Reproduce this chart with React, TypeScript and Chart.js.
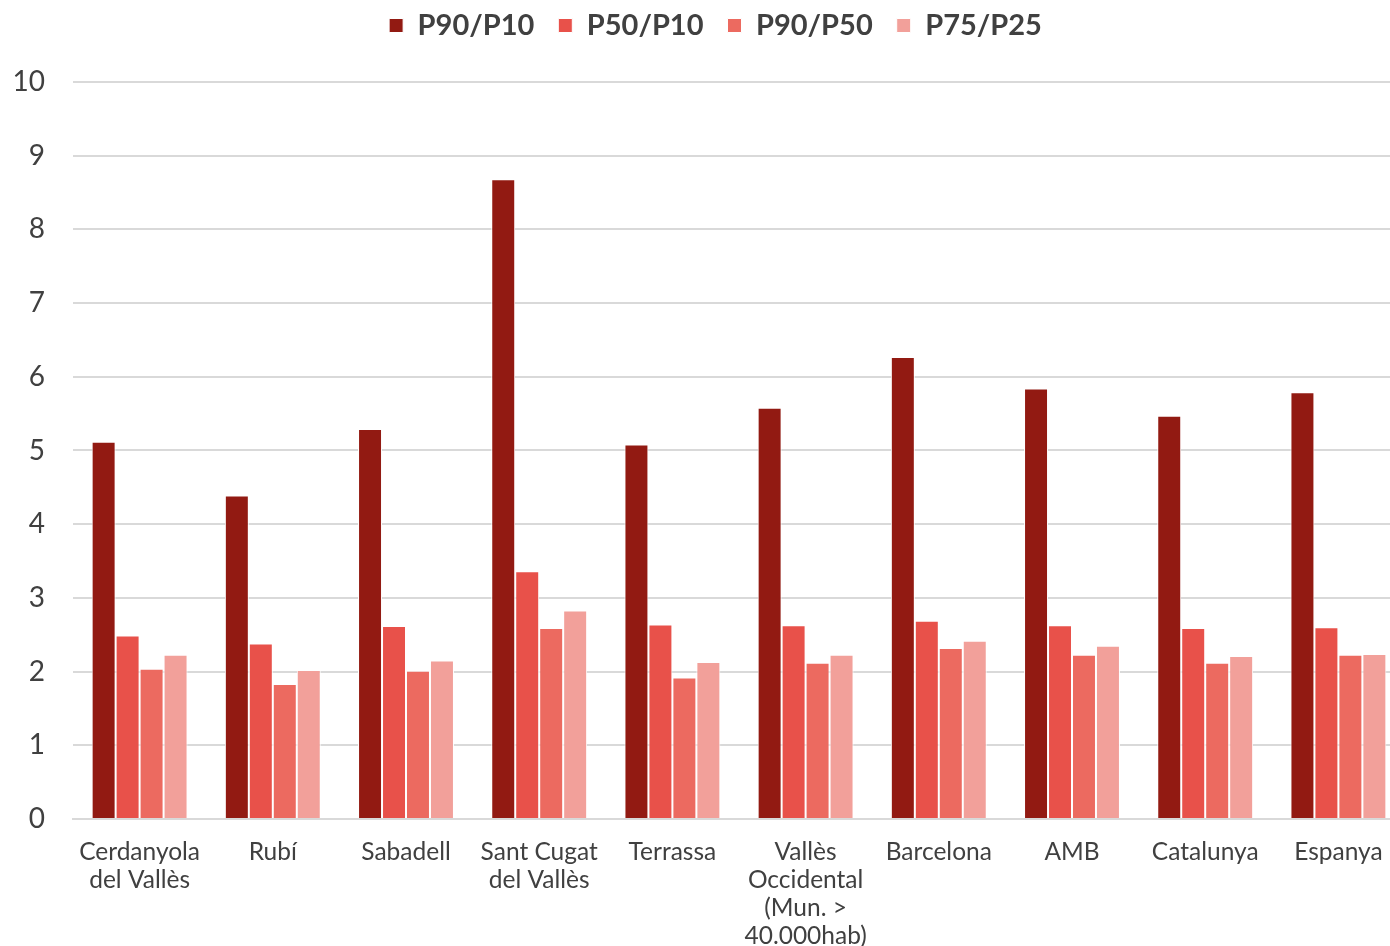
import React, { useEffect, useRef } from "react";
import { Chart, registerables } from "chart.js";

Chart.register(...registerables);

const categories: (string | string[])[] = [
  ["Cerdanyola", "del Vallès"],
  "Rubí",
  "Sabadell",
  ["Sant Cugat", "del Vallès"],
  "Terrassa",
  ["Vallès", "Occidental", "(Mun. >", "40.000hab)"],
  "Barcelona",
  "AMB",
  "Catalunya",
  "Espanya",
];

const seriesNames = ["P90/P10", "P50/P10", "P90/P50", "P75/P25"];
const p90p10 = [5.12, 4.39, 5.29, 8.68, 5.08, 5.58, 6.27, 5.84, 5.47, 5.79];
const p50p10 = [2.49, 2.38, 2.62, 3.36, 2.64, 2.63, 2.69, 2.63, 2.59, 2.6];
const p90p50 = [2.04, 1.83, 2.01, 2.59, 1.92, 2.12, 2.32, 2.23, 2.12, 2.23];
const p75p25 = [2.23, 2.02, 2.15, 2.83, 2.13, 2.23, 2.42, 2.35, 2.21, 2.24];
const colors = ["#921A12", "#E8514A", "#EC6A60", "#F2A09A"];
const yTicks = [0, 1, 2, 3, 4, 5, 6, 7, 8, 9, 10];

const LEGEND_HEIGHT = 82;
const LEGEND_DX = 6;
const LEGEND_DY = -13;

const legendTweak = {
  id: "legendTweak",
  beforeInit(chart: any) {
    const lg = chart.legend;
    if (!lg) return;
    const origFit = lg.fit;
    lg.fit = function () {
      origFit.call(this);
      this.height = LEGEND_HEIGHT;
    };
  },
  afterLayout(chart: any) {
    const lg = chart.legend;
    if (!lg) return;
    lg.left += LEGEND_DX;
    lg.right += LEGEND_DX;
    lg.top += LEGEND_DY;
    lg.bottom += LEGEND_DY;
  },
};

export default function App() {
  const ref = useRef<HTMLCanvasElement | null>(null);
  useEffect(() => {
    if (!ref.current) return;
    const values = [p90p10, p50p10, p90p50, p75p25];
    const chart = new Chart(ref.current, {
      type: "bar",
      data: {
        labels: categories,
        datasets: seriesNames.map((name, i) => ({
          label: name,
          data: values[i],
          backgroundColor: colors[i],
          borderColor: "#ffffff",
          borderWidth: 1,
          barPercentage: 1,
          categoryPercentage: 0.72,
        })),
      },
      options: {
        animation: false,
        responsive: true,
        maintainAspectRatio: false,
        layout: { padding: { left: 14, right: 0, top: 0, bottom: 0 } },
        plugins: {
          tooltip: { enabled: false },
          legend: {
            position: "top",
            labels: {
              boxWidth: 14,
              boxHeight: 14,
              padding: 24,
              color: "#404040",
              font: { family: "Lato", size: 29, weight: "bold" },
            },
          },
        },
        scales: {
          x: {
            grid: { display: false, drawTicks: true, tickLength: 8 },
            border: { display: true, color: "#d9d9d9", width: 2 },
            ticks: {
              color: "#404040",
              font: { family: "Lato", size: 24.5, lineHeight: 1.143 },
              maxRotation: 0,
              autoSkip: false,
              padding: 11,
            },
          },
          y: {
            min: 0,
            max: 10,
            afterBuildTicks: (axis: any) => {
              axis.ticks = yTicks.map((v) => ({ value: v }));
            },
            afterFit: (axis: any) => {
              axis.width = 59;
            },
            grid: { color: "#d9d9d9", lineWidth: 2, drawTicks: false },
            border: { display: false },
            ticks: {
              color: "#404040",
              font: { family: "Lato", size: 28 },
              padding: 28,
            },
          },
        },
      },
      plugins: [legendTweak],
    });
    return () => chart.destroy();
  }, []);
  return (
    <div
      style={{
        position: "fixed",
        left: 0,
        top: 0,
        width: 1390,
        height: 946,
        overflow: "hidden",
        background: "#fff",
      }}
    >
      <div style={{ position: "relative", width: 1405, height: 961 }}>
        <canvas ref={ref} />
      </div>
    </div>
  );
}
